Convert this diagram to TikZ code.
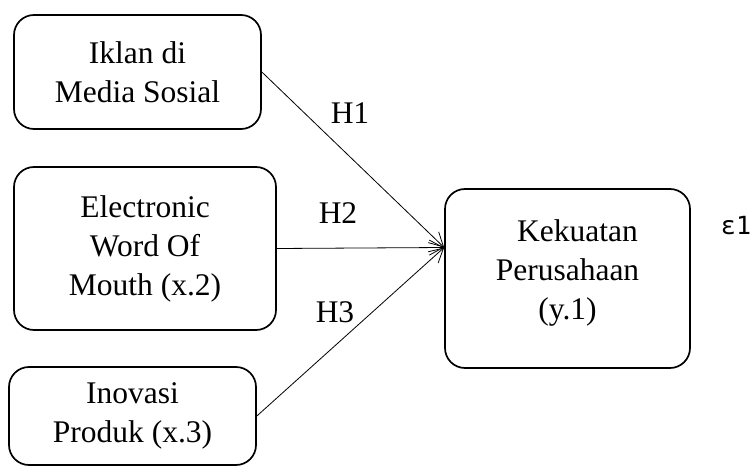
\documentclass[tikz,border=0pt]{standalone}
\usepackage{fontspec}
\setmainfont{Liberation Serif}
\newfontfamily\epsfont{DejaVu Sans Mono}
\usetikzlibrary{arrows.meta}

\begin{document}
\begin{tikzpicture}[x=1pt, y=-1pt,
  box/.style={rectangle, rounded corners=20pt, draw, line width=1.7pt, align=center,
    inner sep=0pt, font=\fontsize{31.5}{39}\selectfont},
  link/.style={-{Straight Barb[length=14pt,width=15pt]}, line width=0.8pt},
  hyp/.style={font=\fontsize{31.5}{39}\selectfont}]
\useasboundingbox (0,0) rectangle (751,470);

\node[box, minimum width=247pt, minimum height=114pt] (x1) at (137.5,72) {Iklan di\\Media Sosial};
\node[box, minimum width=262pt, minimum height=163pt] (x2) at (145,248.5) {Electronic\\Word Of\\Mouth (x.2)};
\node[box, minimum width=247pt, minimum height=98pt] (x3) at (132.5,416) {Inovasi\\Produk (x.3)};
\node[box, minimum width=245pt, minimum height=179pt] (y1) at (567.5,278.5) {};
\node[align=center, font=\fontsize{31.5}{39}\selectfont] (y1text) at ([yshift=6pt]y1.center) {\hspace*{20pt}Kekuatan\\Perusahaan\\(y.1)};
\node[font=\epsfont\fontsize{25}{30}\selectfont] (e1) at (736,226) {ε1};

\coordinate (hit) at ([yshift=31pt]y1.west);

\draw[link] (x1.east) -- (hit);
\draw[link] (x2.east) -- (hit);
\draw[link] (x3.east) -- (hit);

\node[hyp] (h1) at (350,113) {H1};
\node[hyp] (h2) at (338,213) {H2};
\node[hyp] (h3) at (335,312) {H3};

\end{tikzpicture}
\end{document}
